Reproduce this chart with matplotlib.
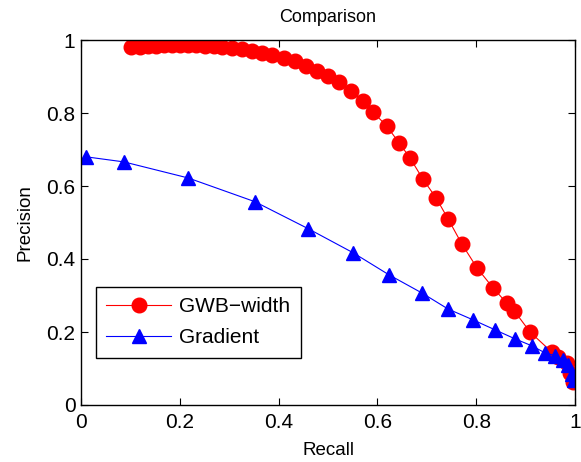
import numpy as np
import matplotlib
matplotlib.use('Agg')
import matplotlib.pyplot as plt

# GWB-width precision/recall
gwb_recall = [0.101, 0.119, 0.136, 0.152, 0.168, 0.184, 0.200, 0.217, 0.233, 0.251,
              0.269, 0.285, 0.306, 0.326, 0.346, 0.366, 0.387, 0.411, 0.433, 0.455,
              0.478, 0.500, 0.522, 0.547, 0.571, 0.591, 0.619, 0.644, 0.666, 0.692,
              0.719, 0.743, 0.771, 0.802, 0.834, 0.862, 0.877, 0.909, 0.953, 0.966,
              0.984, 0.990, 0.996]
gwb_precision = [0.980, 0.981, 0.983, 0.984, 0.985, 0.985, 0.985, 0.985, 0.985, 0.984,
                 0.983, 0.981, 0.978, 0.975, 0.970, 0.964, 0.958, 0.950, 0.942, 0.929,
                 0.915, 0.901, 0.885, 0.860, 0.833, 0.803, 0.764, 0.718, 0.677, 0.619,
                 0.567, 0.510, 0.441, 0.375, 0.321, 0.279, 0.258, 0.200, 0.145, 0.132,
                 0.115, 0.088, 0.062]

# Gradient precision/recall
grad_recall = [0.010, 0.087, 0.217, 0.352, 0.460, 0.551, 0.623, 0.690, 0.743, 0.794,
               0.838, 0.879, 0.913, 0.939, 0.960, 0.976, 0.986, 0.994, 0.998]
grad_precision = [0.680, 0.666, 0.622, 0.557, 0.483, 0.417, 0.357, 0.307, 0.263, 0.233,
                  0.206, 0.181, 0.162, 0.143, 0.135, 0.124, 0.110, 0.085, 0.068]

ticks = [0, 0.2, 0.4, 0.6, 0.8, 1]
tick_labels = ['0', '0.2', '0.4', '0.6', '0.8', '1']

plt.rcParams['font.family'] = ['Liberation Sans', 'DejaVu Sans']
plt.rcParams['font.size'] = 13

fig = plt.figure(figsize=(5.81, 4.62), dpi=100)
ax = fig.add_axes([81/581, 57/462, 494/581, 365/462])

ax.plot(gwb_recall, gwb_precision, linestyle='-', marker='o', color='red',
        markersize=10.5, linewidth=0.8, label='GWB\u2212width')
ax.plot(grad_recall, grad_precision, linestyle='-', marker='^', color='blue',
        markersize=10.5, linewidth=0.8, label='Gradient')

ax.set_xlim(0, 1)
ax.set_ylim(0, 1)
ax.set_xticks(ticks)
ax.set_xticklabels(tick_labels, fontsize=15)
ax.set_yticks(ticks)
ax.set_yticklabels(tick_labels, fontsize=15)
ax.tick_params(axis='x', direction='in', top=True, length=5, width=0.8, pad=6)
ax.tick_params(axis='y', direction='in', right=True, length=5, width=0.8, pad=4)
for s in ax.spines.values():
    s.set_linewidth(1.0)

ax.set_xlabel('Recall', fontsize=13.5, labelpad=7)
ax.set_ylabel('Precision', fontsize=13.5, labelpad=9)
ax.set_title('Comparison', fontsize=13, pad=13)

leg = ax.legend(loc='lower left', bbox_to_anchor=(0.03, 0.129), fancybox=False,
                edgecolor='black', framealpha=1, handlelength=3.1,
                handletextpad=0.4, borderpad=0.5, labelspacing=0.6,
                borderaxespad=0, fontsize=15)
leg.get_frame().set_linewidth(1.0)

fig.savefig('out.png', dpi=100)
